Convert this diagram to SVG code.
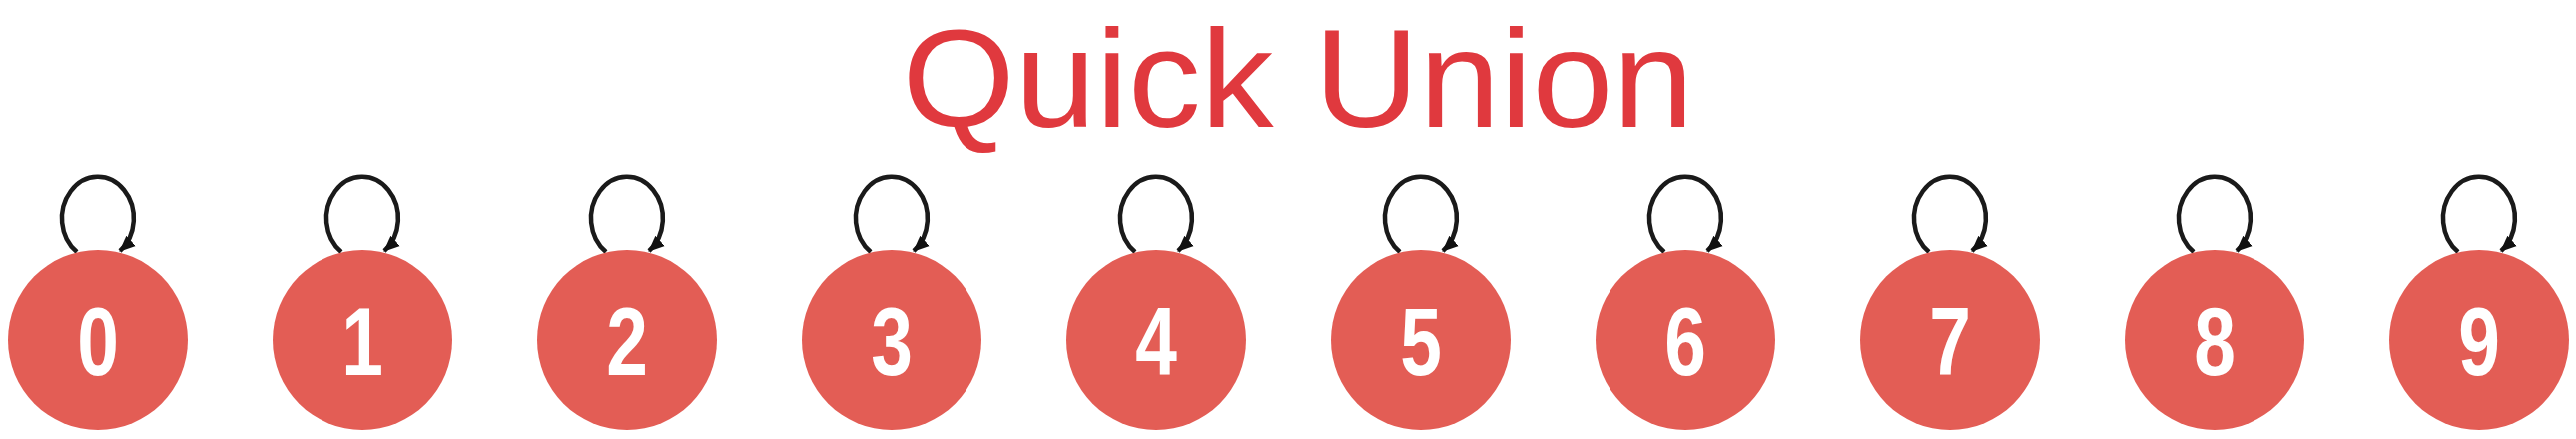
<svg xmlns="http://www.w3.org/2000/svg" width="2580" height="440" viewBox="0 0 2580 440">
  <defs>
    <marker id="arrow" markerUnits="userSpaceOnUse" markerWidth="16" markerHeight="16" viewBox="0 0 16 16" refX="15" refY="8" orient="auto">
      <path d="M0,1 L16,8 L0,15 Z" fill="#111"/>
    </marker>
    <style>
      .title { font-size: 140px; fill: #E0393E; }
      .node { fill: #E35D55; }
      .label { font-weight: bold; fill: #ffffff; }
      .loop { fill: none; stroke: #1a1a1a; stroke-width: 4.5; marker-end: url(#arrow); }
    </style>
  </defs>
  <rect width="2580" height="440" fill="#ffffff"/>
  <text class="title" font-family="Liberation Sans, Arial, Helvetica, sans-serif" transform="translate(1300 127) scale(1.04 1)" text-anchor="middle">Quick Union</text>

  <g id="connectors">
    <path class="loop" d="M77,253 A36 42 0 1 1 120,252"/>
    <path class="loop" d="M342,253 A36 42 0 1 1 385,252"/>
    <path class="loop" d="M607,253 A36 42 0 1 1 650,252"/>
    <path class="loop" d="M872,253 A36 42 0 1 1 915,252"/>
    <path class="loop" d="M1137,253 A36 42 0 1 1 1180,252"/>
    <path class="loop" d="M1402,253 A36 42 0 1 1 1445,252"/>
    <path class="loop" d="M1667,253 A36 42 0 1 1 1710,252"/>
    <path class="loop" d="M1932,253 A36 42 0 1 1 1975,252"/>
    <path class="loop" d="M2197,253 A36 42 0 1 1 2240,252"/>
    <path class="loop" d="M2462,253 A36 42 0 1 1 2505,252"/>
  </g>

  <g font-family="Liberation Sans, Arial, Helvetica, sans-serif" font-size="96" text-anchor="middle">
  <g id="node0"><circle class="node" cx="98" cy="341" r="90"/><text class="label" transform="translate(98 376) scale(0.78 1)">0</text></g>
  <g id="node1"><circle class="node" cx="363" cy="341" r="90"/><text class="label" transform="translate(363 376) scale(0.78 1)">1</text></g>
  <g id="node2"><circle class="node" cx="628" cy="341" r="90"/><text class="label" transform="translate(628 376) scale(0.78 1)">2</text></g>
  <g id="node3"><circle class="node" cx="893" cy="341" r="90"/><text class="label" transform="translate(893 376) scale(0.78 1)">3</text></g>
  <g id="node4"><circle class="node" cx="1158" cy="341" r="90"/><text class="label" transform="translate(1158 376) scale(0.78 1)">4</text></g>
  <g id="node5"><circle class="node" cx="1423" cy="341" r="90"/><text class="label" transform="translate(1423 376) scale(0.78 1)">5</text></g>
  <g id="node6"><circle class="node" cx="1688" cy="341" r="90"/><text class="label" transform="translate(1688 376) scale(0.78 1)">6</text></g>
  <g id="node7"><circle class="node" cx="1953" cy="341" r="90"/><text class="label" transform="translate(1953 376) scale(0.78 1)">7</text></g>
  <g id="node8"><circle class="node" cx="2218" cy="341" r="90"/><text class="label" transform="translate(2218 376) scale(0.78 1)">8</text></g>
  <g id="node9"><circle class="node" cx="2483" cy="341" r="90"/><text class="label" transform="translate(2483 376) scale(0.78 1)">9</text></g>
  </g>
</svg>
